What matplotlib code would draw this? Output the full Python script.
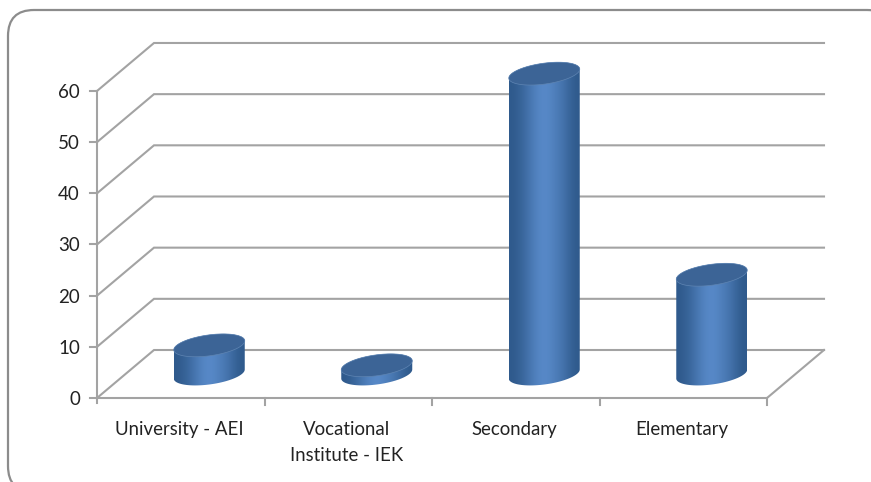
#plot.py
import numpy as np
import matplotlib
matplotlib.use('Agg')
import matplotlib.pyplot as plt
from matplotlib.patches import FancyBboxPatch, Polygon

categories = ['University - AEI', 'Vocational\nInstitute - IEK', 'Secondary', 'Elementary']
values = [5.6, 1.7, 58.7, 19.4]
yticks = [0, 10, 20, 30, 40, 50, 60]

plt.rcParams['font.family'] = ['Lato', 'DejaVu Sans']
GREY = '#a3a3a3'
W, H = 871, 482
X0, XSTEP = 97, 167.5   #pixel position of category 0, pixels per category
Y0, YSTEP = 398, 5.117  #pixel position of value 0, pixels per unit
DX, DY = 57 / XSTEP, 48 / YSTEP  #depth of the 3d box, in data units
A, B, K = 35.5 / XSTEP, 10.5 / YSTEP, 4.5 / YSTEP  #ellipse half width, half height, tilt

fig = plt.figure(figsize=(W / 100, H / 100), dpi=100)

#frame lives on its own axes in plain pixels, its right and bottom sides run off the picture
bg = fig.add_axes([0, 0, 1, 1])
bg.set_xlim(0, W)
bg.set_ylim(H, 0)
bg.axis('off')
bg.add_patch(FancyBboxPatch((34, 36), 833, 430, boxstyle='round,pad=26,rounding_size=26',
                            fc='white', ec='#8c8c8c', lw=1.6))

ax = fig.add_axes([0, 0, 1, 1])
ax.patch.set_alpha(0)
ax.axis('off')
xlim = (-X0 / XSTEP, (W - X0) / XSTEP)
ylim = ((Y0 - H) / YSTEP, Y0 / YSTEP)
n = len(categories)

#walls and floor
for v in yticks:
    ax.plot([0, DX, n + DX], [v, v + DY, v + DY], color=GREY, lw=1.5, zorder=1, solid_joinstyle='miter')
    ax.plot([-7 / XSTEP, 0], [v, v], color=GREY, lw=1.5, zorder=1)
    ax.text(-17 / XSTEP, v - 1.5 / YSTEP, str(v), ha='right', va='center', fontsize=13.5, color='#222222')
ax.plot([0, 0], [-5 / YSTEP, yticks[-1]], color=GREY, lw=1.5, zorder=1)
ax.plot([0, n, n + DX], [0, 0, DY], color=GREY, lw=1.5, zorder=1)
for i in range(1, n + 1):
    ax.plot([i, i], [0, -7 / YSTEP], color=GREY, lw=1.5, zorder=1)

#cylinders
gradient = np.array([[0.0, 0.3, 0.75, 1.0, 0.75, 0.45, 0.0]])
cmap = matplotlib.colors.LinearSegmentedColormap.from_list('bar', ['#2f5a8c', '#5a8ccc'])
t = np.linspace(0, 2 * np.pi, 120)
for i, val in enumerate(values):
    cx = i + 0.5 + DX / 2
    base = DY / 2
    top = base + val
    lower = t[t <= np.pi]
    upper = t[t >= np.pi]
    xs = np.concatenate([cx + A * np.cos(lower), cx + A * np.cos(upper)])
    ys = np.concatenate([base - B * np.sin(lower) + K * np.cos(lower),
                         top - B * np.sin(upper) + K * np.cos(upper)])
    body = Polygon(np.column_stack([xs, ys]), closed=True, fc='none', ec='none', transform=ax.transData)
    ax.add_patch(body)
    im = ax.imshow(gradient, extent=(cx - A, cx + A, base - 2 * B, top + 2 * B), cmap=cmap,
                   aspect='auto', interpolation='bicubic', zorder=2)
    im.set_clip_path(body)
    lid = Polygon(np.column_stack([cx + A * np.cos(t), top - B * np.sin(t) + K * np.cos(t)]),
                  closed=True, fc='#3c6496', ec='#5f85b3', lw=0.5, zorder=3)
    ax.add_patch(lid)
    ax.text(i + 0.5 - 1.5 / XSTEP, -23 / YSTEP, categories[i], ha='center', va='top', fontsize=13.4,
            color='#222222', linespacing=1.65)

ax.set_xlim(xlim)
ax.set_ylim(ylim)
fig.savefig('out.png', dpi=100)
